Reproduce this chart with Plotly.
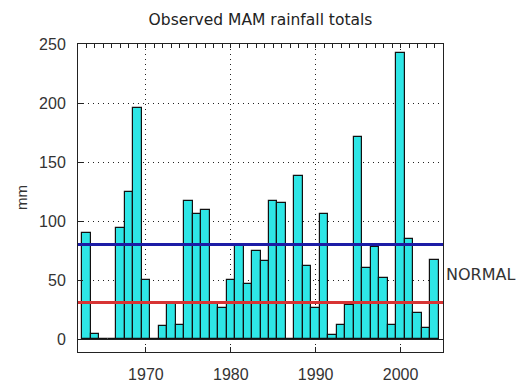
import plotly.graph_objects as go

years = list(range(1963, 2005))
rainfall = [90, 4, 0, 0, 94, 125, 196, 50, 0, 11,
            30, 12, 117, 106, 109, 30, 26, 50, 80, 47,
            75, 66, 117, 115, 0, 138, 62, 26, 106, 3,
            12, 29, 171, 60, 78, 52, 12, 242, 85, 22,
            9, 67]
upper_normal = 80
lower_normal = 31
normal_label_y = 55
x_ticks = [1970, 1980, 1990, 2000]
y_ticks = [0, 50, 100, 150, 200, 250]
x_range = [1962, 2005]
y_range = [-11, 250]

W, H = 520, 375  # page body has an 8px margin

fig = go.Figure()
fig.add_trace(go.Bar(
    x=years, y=rainfall, width=1.0,
    marker=dict(color="#2ee6e6", line=dict(color="#111111", width=1.2)),
    showlegend=False, hoverinfo="x+y",
))
# invisible helper trace so the top (minor tick) axis is drawn
fig.add_trace(go.Scatter(
    x=years, y=rainfall, xaxis="x2", mode="markers",
    marker=dict(opacity=0), showlegend=False, hoverinfo="skip",
))
fig.add_hline(y=upper_normal, line=dict(color="#1c1ca6", width=3))
fig.add_hline(y=lower_normal, line=dict(color="#d83434", width=3))

fig.add_annotation(
    text="NORMAL", xref="paper", x=1.0, xanchor="left", xshift=1,
    yref="y", y=normal_label_y, yanchor="middle", showarrow=False,
    font=dict(family="DejaVu Sans", size=16, color="#333333"),
)
fig.add_annotation(
    text="mm", xref="paper", x=0, xanchor="center", xshift=-57,
    yref="paper", y=0.5, yanchor="middle", showarrow=False, textangle=-90,
    font=dict(family="Liberation Sans", size=15, color="#333333"),
)

fig.update_layout(
    width=W, height=H,
    margin=dict(l=70, r=85, t=36, b=31),
    paper_bgcolor="white", plot_bgcolor="white",
    bargap=0,
    title=dict(text="Observed MAM rainfall totals", x=252.5 / W,
               xanchor="center", y=1 - 12 / H, yanchor="middle",
               font=dict(family="DejaVu Sans", size=15.5, color="#222222")),
    xaxis=dict(
        range=x_range, tickvals=x_ticks, ticktext=[str(t) for t in x_ticks],
        showgrid=True, griddash="1px,4px", gridcolor="#222222", gridwidth=1.3,
        ticks="inside", ticklen=5, tickcolor="#222222",
        showline=True, linecolor="#222222", linewidth=1, mirror=True,
        zeroline=False, ticklabelstandoff=8, automargin=False,
        tickfont=dict(family="Liberation Sans", size=16, color="#333333"),
    ),
    xaxis2=dict(
        range=x_range, overlaying="x", side="top", showticklabels=False,
        tickmode="linear", tick0=1962, dtick=1, ticks="inside", ticklen=4,
        tickwidth=1, tickcolor="#222222", showgrid=False, zeroline=False,
        showline=False, automargin=False,
    ),
    yaxis=dict(
        range=y_range, tickvals=y_ticks,
        showgrid=True, griddash="1px,4px", gridcolor="#222222", gridwidth=1.3,
        ticks="inside", ticklen=5, tickcolor="#222222",
        showline=True, linecolor="#222222", linewidth=1, mirror=True,
        zeroline=True, zerolinecolor="#222222", zerolinewidth=1,
        ticklabelstandoff=8, automargin=False,
        tickfont=dict(family="Liberation Sans", size=16, color="#333333"),
    ),
)

fig.write_html("out.html")
